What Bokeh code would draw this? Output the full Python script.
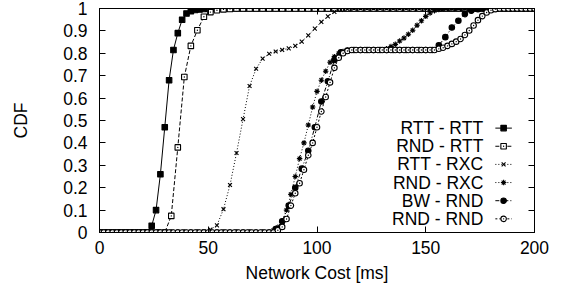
from bokeh.plotting import figure
from bokeh.models import Range1d, FixedTicker, LinearAxis
from bokeh.embed import file_html
from bokeh.resources import INLINE
from bokeh.core.properties import value

# ---------------- data ----------------
cost_2ms = list(range(0, 201, 2))   # sample grid, 2 ms
cost_3ms = list(range(0, 199, 3))   # sample grid, 3 ms

rtt_rtt = [
    0, 0, 0, 0, 0, 0, 0, 0, 0, 0,
    0, 0, 0.03, 0.10, 0.26, 0.47, 0.68, 0.815, 0.89, 0.95,
    0.978, 0.988, 0.993, 0.996, 0.998, 0.999, 1, 1, 1, 1,
    1, 1, 1, 1, 1, 1, 1, 1, 1, 1,
    1, 1, 1, 1, 1, 1, 1, 1, 1, 1,
    1, 1, 1, 1, 1, 1, 1, 1, 1, 1,
    1, 1, 1, 1, 1, 1, 1, 1, 1, 1,
    1, 1, 1, 1, 1, 1, 1, 1, 1, 1,
    1, 1, 1, 1, 1, 1, 1, 1, 1, 1,
    1, 1, 1, 1, 1, 1, 1, 1, 1, 1,
    1,
]

rnd_rtt = [
    0, 0, 0, 0, 0, 0, 0, 0, 0, 0,
    0, 0.074, 0.38, 0.694, 0.833, 0.903, 0.963, 0.984, 0.992, 0.996,
    0.998, 1, 1, 1, 1, 1, 1, 1, 1, 1,
    1, 1, 1, 1, 1, 1, 1, 1, 1, 1,
    1, 1, 1, 1, 1, 1, 1, 1, 1, 1,
    1, 1, 1, 1, 1, 1, 1, 1, 1, 1,
    1, 1, 1, 1, 1, 1, 1,
]

rtt_rxc = [
    0, 0, 0, 0, 0, 0, 0, 0, 0, 0,
    0, 0, 0, 0, 0, 0, 0.004, 0.013, 0.032, 0.104,
    0.212, 0.355, 0.506, 0.654, 0.731, 0.776, 0.798, 0.808, 0.815, 0.822,
    0.833, 0.852, 0.88, 0.91, 0.94, 0.965, 0.985, 0.994, 0.998, 1,
    1, 1, 1, 1, 1, 1, 1, 1, 1, 1,
    1, 1, 1, 1, 1, 1, 1, 1, 1, 1,
    1, 1, 1, 1, 1, 1, 1,
]

rnd_rxc = [
    0, 0, 0, 0, 0, 0, 0, 0, 0, 0,
    0, 0, 0, 0, 0, 0, 0, 0, 0, 0,
    0, 0, 0, 0, 0, 0, 0, 0, 0, 0,
    0, 0, 0, 0, 0, 0, 0, 0, 0, 0,
    0.01, 0.023, 0.05, 0.10, 0.17, 0.25, 0.33, 0.40, 0.48, 0.56,
    0.63, 0.68, 0.72, 0.76, 0.785, 0.80, 0.808, 0.812, 0.815, 0.815,
    0.815, 0.815, 0.815, 0.815, 0.815, 0.815, 0.82, 0.83, 0.84, 0.855,
    0.868, 0.885, 0.903, 0.925, 0.945, 0.965, 0.98, 0.99, 0.996, 0.998,
    1, 1, 1, 1, 1, 1, 1, 1, 1, 1,
    1, 1, 1, 1, 1, 1, 1, 1, 1, 1,
    1,
]

bw_rnd = [
    0, 0, 0, 0, 0, 0, 0, 0, 0, 0,
    0, 0, 0, 0, 0, 0, 0, 0, 0, 0,
    0, 0, 0, 0, 0, 0, 0, 0.015, 0.05, 0.12,
    0.20, 0.285, 0.365, 0.47, 0.585, 0.675, 0.77, 0.805, 0.812, 0.815,
    0.815, 0.815, 0.815, 0.815, 0.815, 0.815, 0.815, 0.815, 0.815, 0.815,
    0.815, 0.815, 0.836, 0.872, 0.915, 0.945, 0.975, 0.99, 0.997, 1,
    1, 1, 1, 1, 1, 1, 1,
]

rnd_rnd = [
    0, 0, 0, 0, 0, 0, 0, 0, 0, 0,
    0, 0, 0, 0, 0, 0, 0, 0, 0, 0,
    0, 0, 0, 0, 0, 0, 0, 0, 0, 0,
    0, 0, 0, 0, 0, 0, 0, 0, 0, 0,
    0, 0.01, 0.025, 0.06, 0.12, 0.175, 0.22, 0.28, 0.345, 0.40,
    0.47, 0.54, 0.605, 0.67, 0.735, 0.78, 0.80, 0.81, 0.815, 0.815,
    0.815, 0.815, 0.815, 0.815, 0.815, 0.815, 0.815, 0.815, 0.815, 0.815,
    0.815, 0.815, 0.815, 0.815, 0.815, 0.815, 0.815, 0.815, 0.82, 0.825,
    0.833, 0.842, 0.852, 0.864, 0.882, 0.902, 0.924, 0.948, 0.966, 0.982,
    0.992, 0.997, 1, 1, 1, 1, 1, 1, 1, 1,
    1,
]

labels = ["RTT - RTT", "RND - RTT", "RTT - RXC", "RND - RXC", "BW - RND", "RND - RND"]
x_ticks = [0, 50, 100, 150, 200]
y_ticks = [0, 0.1, 0.2, 0.3, 0.4, 0.5, 0.6, 0.7, 0.8, 0.9, 1]
y_tick_labels = ["0", "0.1", "0.2", "0.3", "0.4", "0.5", "0.6", "0.7", "0.8", "0.9", "1"]

# ---------------- styles ----------------
series = [
    (cost_2ms, rtt_rtt, "square", "black", "solid"),
    (cost_3ms, rnd_rtt, "square_dot", "white", "4 2"),
    (cost_3ms, rtt_rxc, "x", "black", "1 2"),
    (cost_2ms, rnd_rxc, "asterisk", "black", "1 2"),
    (cost_3ms, bw_rnd, "circle", "black", "4 2 1 2"),
    (cost_2ms, rnd_rnd, "circle_dot", "white", "2 2"),
]

FONT = "Liberation Sans"
FS = "17.5px"

p = figure(width=568, height=291, x_range=Range1d(0, 200), y_range=Range1d(0, 1),
           output_backend="svg", toolbar_location=None,
           min_border_left=99, min_border_right=34, min_border_top=8, min_border_bottom=59)
p.background_fill_color = "white"
p.border_fill_color = "white"
p.outline_line_color = "black"
p.outline_line_width = 1
p.grid.visible = False

for xs, ys, mk, fill, dash in series:
    p.line(xs, ys, line_color="black", line_width=1, line_dash=dash)
    p.scatter(xs, ys, marker=mk, size=5.5, line_color="black", fill_color=fill, line_width=1.1)

# custom legend (text right-aligned, sample to its right)
LEG_TEXT_X = 176.5
LEG_SEG = (182.0, 189.6)
LEG_Y0 = 0.466
LEG_DY = 0.081
for i, (lab, (xs, ys, mk, fill, dash)) in enumerate(zip(labels, series)):
    yy = LEG_Y0 - i * LEG_DY
    p.text(x=[LEG_TEXT_X], y=[yy], text=[lab], text_align="right", text_baseline="middle",
           text_font=value(FONT), text_font_size=FS, text_color="black")
    p.line([LEG_SEG[0], LEG_SEG[1]], [yy, yy], line_color="black", line_width=1, line_dash=dash)
    p.scatter([(LEG_SEG[0] + LEG_SEG[1]) / 2], [yy], marker=mk, size=5.5,
              line_color="black", fill_color=fill, line_width=1.1)

xt = FixedTicker(ticks=x_ticks)
yt = FixedTicker(ticks=y_ticks)

def style_axis(ax, show_labels=True):
    ax.axis_line_color = "black"
    ax.axis_line_width = 1
    ax.major_tick_line_color = "black"
    ax.major_tick_in = 6
    ax.major_tick_out = 0
    ax.minor_tick_line_color = None
    ax.major_label_text_font = FONT
    ax.major_label_text_font_size = FS if show_labels else "0px"
    ax.major_label_text_color = "black"
    ax.axis_label_text_font = FONT
    ax.axis_label_text_font_size = FS
    ax.axis_label_text_font_style = "normal"
    ax.axis_label_text_color = "black"

xa = p.xaxis[0]
xa.ticker = xt
xa.axis_label = "Network Cost [ms]"
style_axis(xa)
xa.major_label_standoff = 8
xa.axis_label_standoff = 6

ya = p.yaxis[0]
ya.ticker = yt
ya.major_label_overrides = {t: s for t, s in zip(y_ticks, y_tick_labels)}
ya.axis_label = "CDF"
style_axis(ya)
ya.major_label_standoff = 12
ya.axis_label_standoff = 29

# mirrored tick marks on top and right (no labels)
top = LinearAxis(ticker=xt)
style_axis(top, False)
top.major_label_standoff = 0
p.add_layout(top, "above")

right = LinearAxis(ticker=yt)
style_axis(right, False)
right.major_label_standoff = 0
p.add_layout(right, "right")

open("out.html", "w").write(file_html(p, INLINE))
